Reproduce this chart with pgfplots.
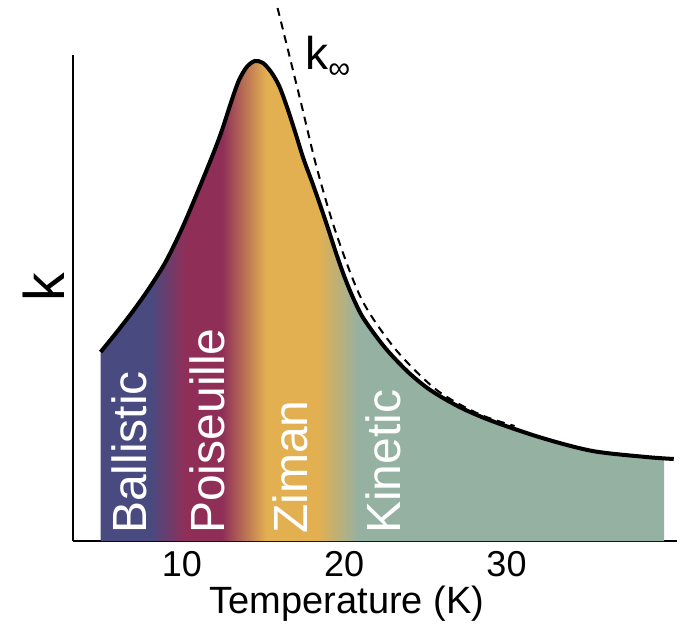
\documentclass[border=0pt]{standalone}
\usepackage{fontspec}
\setmainfont{Liberation Sans}
\usepackage{pgfplots}
\usepackage{pgfplotstable}
\pgfplotsset{compat=1.18}
\definecolor{cB}{HTML}{484A80}
\definecolor{cP}{HTML}{8F2F58}
\definecolor{cZ}{HTML}{E2B050}
\definecolor{cK}{HTML}{95B1A2}
\pgfdeclarehorizontalshading{regions}{100bp}{color(0bp)=(cB); color(29.4bp)=(cB); color(32.5bp)=(cP); color(35.8bp)=(cP); color(39.7bp)=(cZ); color(44.3bp)=(cZ); color(47.9bp)=(cK); color(100bp)=(cK)}
\pgfplotstableread{
T k
5.0 189
6.0 209
7.0 230
8.0 253
9.0 279
10.0 312
11.0 350
12.0 390
12.5 412
13.0 437
13.5 460
14.0 474
14.5 480
15.0 478
15.5 469
16.0 455
16.5 433
17.0 408
17.5 382
18.0 360
18.5 337
19.0 313
19.5 288
20.0 265
20.5 245
21.1 225
22.0 204
22.8 188
24.0 168
25.3 151
27.1 134
29.1 120
32.2 103
35.3 90
38.6 84
40.3 82
}\curve
\pgfplotstableread{
T k
5.0 189
6.0 209
7.0 230
8.0 253
9.0 279
10.0 312
11.0 350
12.0 390
12.5 412
13.0 437
13.5 460
14.0 474
14.5 480
15.0 478
15.5 469
16.0 455
16.5 433
17.0 408
17.5 382
18.0 360
18.5 337
19.0 313
19.5 288
20.0 265
20.5 245
21.1 225
22.0 204
22.8 188
24.0 168
25.3 151
27.1 134
29.1 120
32.2 103
35.3 90
37.5 86
39.7 83
}\filldata
\pgfplotstableread{
T k
15.9 533
17.3 441
18.3 374
19.5 308
21.1 241
23.2 191
25.7 151
28.3 127
30.5 115
}\kinf
\begin{document}
\begin{tikzpicture}
\path[use as bounding box] (-54.75pt,-65.25pt) rectangle (456.75pt,405.75pt);
\begin{axis}[
  at={(0,0)}, anchor=south west,
  scale only axis, width=453pt, height=364.5pt,
  xmin=3.3, xmax=40.5, ymin=0, ymax=486,
  axis x line=bottom, axis y line=left,
  axis line style={-, line width=1.6pt},
  x axis line style={-}, y axis line style={-},
  xtick={10,20,30}, ytick=\empty,
  major tick length=0pt,
  /pgf/number format/assume math mode=true,
  ticklabel style={font=\fontsize{27}{30}\selectfont},
  xticklabel style={anchor=base, yshift=-26.5pt, inner sep=0pt},
  xlabel={Temperature (K)},
  xlabel style={font=\fontsize{28.5}{30}\selectfont, at={(axis description cs:0.4536,0)}, anchor=base, yshift=-54.5pt, inner sep=0pt},
  ylabel={k},
  ylabel style={font=\fontsize{43}{45}\selectfont, at={(axis description cs:-0.049,0.523)}, anchor=center, inner sep=0pt},
  clip=false,
]
\addplot[draw=none, smooth, shading=regions] table[x=T, y=k] {\filldata} \closedcycle;
\node[rotate=90, anchor=west, text=white, font=\fontsize{36}{36}\selectfont, inner sep=0pt] at (axis cs:6.8,7) {Ballistic};
\node[rotate=90, anchor=west, text=white, font=\fontsize{36}{36}\selectfont, inner sep=0pt] at (axis cs:11.55,7) {Poiseuille};
\node[rotate=90, anchor=west, text=white, font=\fontsize{36}{36}\selectfont, inner sep=0pt] at (axis cs:16.7,7) {Ziman};
\node[rotate=90, anchor=west, text=white, font=\fontsize{36}{36}\selectfont, inner sep=0pt] at (axis cs:22.4,7) {Kinetic};
\addplot[black, smooth, line width=1.5pt, dash pattern=on 6pt off 4.5pt] table[x=T, y=k] {\kinf};
\addplot[black, smooth, line width=3pt] table[x=T, y=k] {\curve};
\node[anchor=base west, inner sep=0pt, font=\fontsize{34.5}{36}\selectfont] at (axis cs:17.6,471) {k\raisebox{-6.75pt}{\fontsize{23}{23}\selectfont ∞}};
\end{axis}
\end{tikzpicture}
\end{document}
